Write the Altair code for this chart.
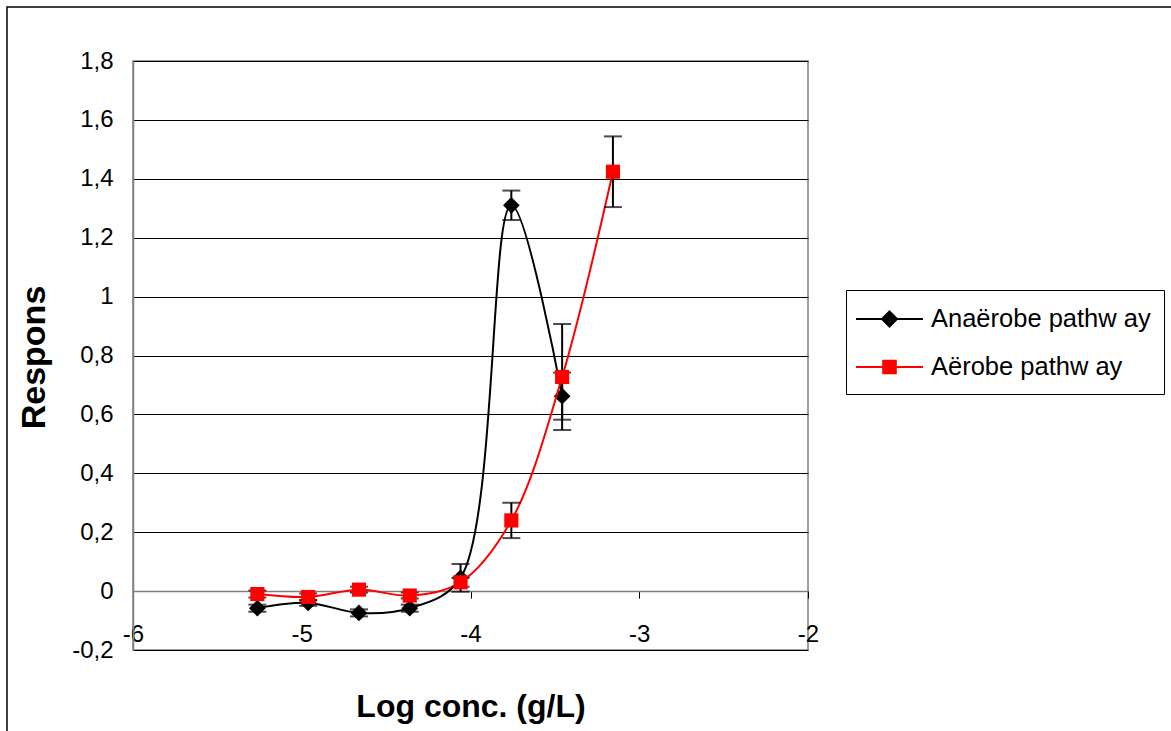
import altair as alt
import pandas as pd

series_names = ["Anaërobe pathw ay", "Aërobe pathw ay"]
series_colors = ["#000000", "#FF0000"]

log_conc = [-5.263, -4.962, -4.661, -4.360, -4.059, -3.758, -3.457, -3.156]

anaerobe_resp = [-0.058, -0.040, -0.074, -0.058, 0.045, 1.310, 0.662]
anaerobe_err = [0.012, 0.010, 0.012, 0.012, 0.047, 0.050, 0.080]

aerobe_resp = [-0.010, -0.020, 0.005, -0.015, 0.030, 0.240, 0.727, 1.424]
aerobe_err = [0.012, 0.012, 0.010, 0.010, 0.015, 0.060, 0.180, 0.120]

x_ticks = [-6, -5, -4, -3, -2]
y_ticks = [-0.2, 0, 0.2, 0.4, 0.6, 0.8, 1.0, 1.2, 1.4, 1.6, 1.8]


def make_df(name, ys, errs):
    return pd.DataFrame({
        "series": name,
        "x": log_conc[:len(ys)],
        "y": ys,
        "lo": [v - e for v, e in zip(ys, errs)],
        "hi": [v + e for v, e in zip(ys, errs)],
    })


df_an = make_df(series_names[0], anaerobe_resp, anaerobe_err)
df_ae = make_df(series_names[1], aerobe_resp, aerobe_err)

FONT = "Liberation Sans"
W, H = 675, 589

x_scale = alt.Scale(domain=[-6, -2], nice=False, zero=False)
y_scale = alt.Scale(domain=[-0.2, 1.8], nice=False, zero=False)

x_axis = alt.Axis(
    values=x_ticks, title="Log conc. (g/L)", offset=-58.9,
    labelExpr="toString(datum.value)",
    domainColor="#808080", domainWidth=1.5,
    tickColor="#000000", tickSize=7, tickWidth=1,
    labelFont=FONT, labelFontSize=24, labelColor="#000000",
    labelBaseline="middle", labelPadding=36, labelFlush=False, labelOverlap=False,
    grid=False,
    titleFont=FONT, titleFontSize=32, titleFontWeight="bold", titleColor="#000000",
    titleY=115, titleBaseline="middle",
)
y_axis = alt.Axis(
    values=y_ticks, title="Respons",
    labelExpr="replace(toString(datum.value), '.', ',')",
    domainColor="#808080", domainWidth=1.5,
    ticks=False, tickSize=0,
    labelFont=FONT, labelFontSize=24, labelColor="#000000",
    labelPadding=20, labelOverlap=False,
    grid=True, gridColor="#000000", gridWidth=1,
    titleFont=FONT, titleFontSize=34, titleFontWeight="bold", titleColor="#000000",
    titleX=-99, titleY=296, titleBaseline="middle", titleAlign="center",
)


def X(field="x"):
    return alt.X(f"{field}:Q", scale=x_scale, axis=x_axis)


def Y(field="y"):
    return alt.Y(f"{field}:Q", scale=y_scale, axis=y_axis)


layers = []

# outer frame of the chart
frame = alt.Chart(pd.DataFrame({"k": [0]})).mark_rect(
    fill="white", fillOpacity=0, stroke="#000000", strokeWidth=1.5
).encode(
    x=alt.value(-126), x2=alt.value(1045), y=alt.value(-54), y2=alt.value(720)
)
layers.append(frame)

for df, col, shp, sz in [
    (df_an, series_colors[0], "diamond", 280),
    (df_ae, series_colors[1], "square", 200),
]:
    line = alt.Chart(df).mark_line(
        interpolate="catmull-rom", color=col, strokeWidth=2
    ).encode(x=X(), y=Y(), order="x:Q")
    rule = alt.Chart(df).mark_rule(color="#000000", strokeWidth=2).encode(
        x=X(), y=Y("lo"), y2="hi:Q"
    )
    caps = alt.Chart(df).transform_fold(["lo", "hi"], as_=["end", "val"]).mark_tick(
        orient="horizontal", color="#000000", size=18, thickness=2
    ).encode(x=X(), y=Y("val"))
    pts = alt.Chart(df).mark_point(
        shape=shp, filled=True, size=sz, color=col, opacity=1
    ).encode(x=X(), y=Y())
    layers += [line, rule, caps, pts]

# legend source (no visible marks; legend driven by explicit scale domains)
legend_paths = [
    "M-2.23,0H2.23M0,-0.5L0.5,0L0,0.5L-0.5,0Z",
    "M-2.23,0H2.23M-0.42,-0.42H0.42V0.42H-0.42Z",
]
legend = alt.Legend(
    title=None, orient="none", legendX=713, legendY=229,
    padding=13, symbolSize=900, symbolOffset=14.5, labelOffset=25.5,
    rowPadding=18, labelFont=FONT, labelFontSize=25.5, labelColor="#000000",
    labelLimit=400, strokeColor="#000000", fillColor="#FFFFFF",
    symbolStrokeWidth=2, symbolOpacity=1,
)
all_df = pd.concat([df_an, df_ae], ignore_index=True)
legend_layer = alt.Chart(all_df).transform_filter("false").mark_point(
    filled=True, strokeWidth=2, opacity=1
).encode(
    x=X(), y=Y(),
    color=alt.Color("series:N", scale=alt.Scale(domain=series_names, range=series_colors), legend=legend),
    stroke=alt.Stroke("series:N", scale=alt.Scale(domain=series_names, range=series_colors), legend=legend),
    shape=alt.Shape("series:N", scale=alt.Scale(domain=series_names, range=legend_paths), legend=legend),
)
layers.append(legend_layer)

chart = alt.layer(*layers).properties(
    width=W, height=H,
    autosize=alt.AutoSizeParams(type="none"),
    padding={"left": 133, "top": 61, "right": 1171 - 133 - W, "bottom": 731 - 61 - H},
    background="white",
).configure_view(stroke="#808080", strokeWidth=1.5)

chart.save("out.html", embed_options={"renderer": "svg", "actions": False})
